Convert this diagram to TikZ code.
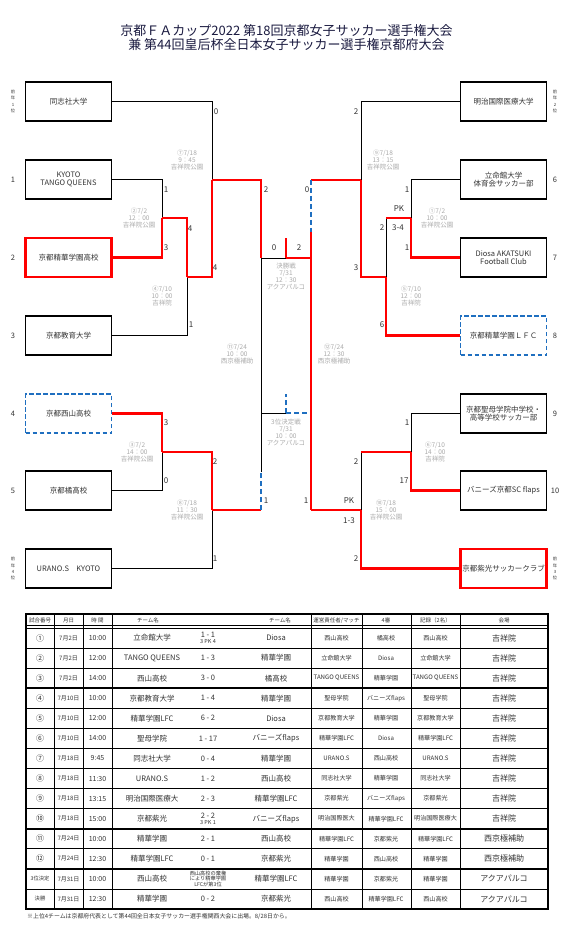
\documentclass[tikz,border=0pt]{standalone}
\usepackage{fontspec}
\setmainfont{Noto Sans CJK JP}
\definecolor{wred}{HTML}{FF0000}
\definecolor{tblue}{HTML}{1F6FC0}
\definecolor{infog}{HTML}{ABABAB}
\definecolor{txt}{HTML}{333333}
\definecolor{titlec}{HTML}{1A1A40}
\begin{document}
\begin{tikzpicture}[x=1pt,y=-1pt,
  teambox/.style={draw=black, line width=1.1pt, minimum width=86pt, minimum height=39pt, inner sep=0pt, align=center, font=\fontsize{7.5}{8.5}\selectfont, text=txt},
  winbox/.style={teambox, draw=wred, line width=2.3pt},
  thirdbox/.style={teambox, draw=tblue, line width=1.8pt, dash pattern=on 4.5pt off 2.5pt},
  lose/.style={draw=black, line width=0.9pt},
  win/.style={draw=wred, line width=2.4pt},
  third/.style={draw=tblue, line width=1.9pt, dash pattern=on 5pt off 3pt},
  score/.style={inner sep=0pt, font=\fontsize{8}{8}\selectfont, text=txt},
  info/.style={inner sep=0pt, align=center, font=\fontsize{6.5}{7}\selectfont, text=infog},
  sidenum/.style={inner sep=0pt, font=\fontsize{7.5}{8}\selectfont, text=txt},
  rank/.style={inner sep=0pt, align=center, font=\fontsize{4.3}{6.3}\selectfont, text=txt},
  cell/.style={inner sep=0pt, align=center, text=txt},
  hcell/.style={inner sep=0pt, align=center, text=txt, font=\fontsize{5.5}{6}\selectfont},
]
\useasboundingbox (0,0) rectangle (576,933);
\fill[white] (0,0) rectangle (576,933);

% title
\node[inner sep=0pt, text=titlec, font=\fontsize{13}{14}\selectfont] (title1) at (286.5,31) {京都ＦＡカップ2022 第18回京都女子サッカー選手権大会};
\node[inner sep=0pt, text=titlec, font=\fontsize{13}{14}\selectfont] (title2) at (286.5,44.5) {兼 第44回皇后杯全日本女子サッカー選手権京都府大会};

% team boxes
\node[teambox] (L1) at (68.5,101.5) {同志社大学};
\node[teambox] (L2) at (68.5,179.5) {KYOTO\\TANGO QUEENS};
\node[winbox] (L3) at (68.5,257.5) {京都精華学園高校};
\node[teambox] (L4) at (68.5,335.5) {京都教育大学};
\node[thirdbox] (L5) at (68.5,413.5) {京都西山高校};
\node[teambox] (L6) at (68.5,490.5) {京都橘高校};
\node[teambox] (L7) at (68.5,568.5) {URANO.S\quad KYOTO};
\node[teambox] (R1) at (503.5,101.5) {明治国際医療大学};
\node[teambox] (R2) at (503.5,179.5) {立命館大学\\体育会サッカー部};
\node[teambox] (R3) at (503.5,257.5) {Diosa AKATSUKI\\Football Club};
\node[thirdbox] (R4) at (503.5,335.5) {京都精華学園ＬＦＣ};
\node[teambox] (R5) at (503.5,413.5) {京都聖母学院中学校・\\高等学校サッカー部};
\node[teambox] (R6) at (503.5,490.5) {バニーズ京都SC flaps};
\node[winbox] (R7) at (503.5,568.5) {京都紫光サッカークラブ};

% seed numbers
\node[rank] (lr1) at (13,101.5) {前\\年\\1\\位};
\node[sidenum] (ln1) at (13,179.5) {1};
\node[sidenum] (ln2) at (13,257.5) {2};
\node[sidenum] (ln3) at (13,335.5) {3};
\node[sidenum] (ln4) at (13,413.5) {4};
\node[sidenum] (ln5) at (13,490.5) {5};
\node[rank] (lr4) at (13,568.5) {前\\年\\4\\位};
\node[rank] (rr2) at (555,101.5) {前\\年\\2\\位};
\node[sidenum] (rn6) at (555,179.5) {6};
\node[sidenum] (rn7) at (555,257.5) {7};
\node[sidenum] (rn8) at (555,335.5) {8};
\node[sidenum] (rn9) at (555,413.5) {9};
\node[sidenum] (rn10) at (555,490.5) {10};
\node[rank] (rr3) at (555,568.5) {前\\年\\3\\位};

% bracket coordinates
\coordinate (a2) at (162,218);
\coordinate (a4) at (187,277);
\coordinate (a7) at (212,180);
\coordinate (a3) at (162,452);
\coordinate (a8) at (212,510);
\coordinate (a8r) at (261,510);
\coordinate (a8m) at (261,472);
\coordinate (a11t) at (261,258);
\coordinate (a11b) at (261,413);
\coordinate (fin) at (286,258);
\coordinate (finR) at (311,258);
\coordinate (champ) at (286,238);
\coordinate (thr) at (286,413);
\coordinate (thrR) at (311,413);
\coordinate (thrup) at (286,394);
\coordinate (b1) at (411,218);
\coordinate (b1o) at (386,218);
\coordinate (b5) at (386,277);
\coordinate (b9) at (361,180);
\coordinate (b12t) at (311,180);
\coordinate (b12m) at (311,232);
\coordinate (b6) at (411,452);
\coordinate (b6o) at (361,452);
\coordinate (b10) at (361,510);
\coordinate (b12b) at (311,510);

% left bracket
\draw[lose] (L1.east) -| (a7);
\draw[lose] (L2.east) -| (a2);
\draw[lose] (L4.east) -| (a4);
\draw[lose] (L6.east) -| (a3);
\draw[lose] (L7.east) -| (a8);
\draw[lose] (a8m) -- (a11t);
\draw[lose] (a11b) -- (thr);
\draw[lose] (a11t) -- (fin);
\draw[win] (L3.east) -| (a2);
\draw[win] (a2) -| (a4);
\draw[win] (a4) -| (a7);
\draw[win] (a7) -| (a11t);
\draw[win] (L5.east) -| (a3);
\draw[win] (a3) -| (a8);
\draw[win] (a8) -- (a8r);
\draw[third] (a8r) -- (a8m);
% centre
\draw[third] (thr) -- (thrR);
\draw[third] (thr) -- (thrup);
\draw[win] (fin) -- (finR);
\draw[win] (fin) -- (champ);
% right bracket
\draw[lose] (R1.west) -| (b9);
\draw[lose] (R2.west) -| (b1);
\draw[lose] (b1o) -- (b5);
\draw[lose] (R5.west) -| (b6);
\draw[lose] (b6o) -- (b10);
\draw[win] (R3.west) -| (b1);
\draw[win] (b1) -- (b1o);
\draw[win] (R4.west) -| (b5);
\draw[win] (b5) -| (b9);
\draw[win] (b9) -- (b12t);
\draw[third] (b12t) -- (b12m);
\draw[win] (b12m) -- (b12b);
\draw[win] (R6.west) -| (b6);
\draw[win] (b6) -- (b6o);
\draw[win] (R7.west) -| (b10);
\draw[win] (b10) -- (b12b);

% scores
\node[score] (s1) at (216,112) {0};
\node[score] (s2) at (166,190) {1};
\node[score] (s3) at (166,248) {3};
\node[score] (s4) at (190,229) {4};
\node[score] (s5) at (191,325) {1};
\node[score] (s6) at (215,268) {4};
\node[score] (s7) at (266,190) {2};
\node[score] (s8) at (274,248) {0};
\node[score] (s9) at (166,423) {3};
\node[score] (s10) at (166,481) {0};
\node[score] (s11) at (215,462) {2};
\node[score] (s12) at (215,559) {1};
\node[score] (s13) at (266,501) {1};
\node[score] (s14) at (356,112) {2};
\node[score] (s15) at (407,190) {1};
\node[score] (s16) at (399,209) {PK};
\node[score] (s17) at (398,228) {3-4};
\node[score] (s18) at (407,248) {1};
\node[score] (s19) at (382,228) {2};
\node[score] (s20) at (356,268) {3};
\node[score] (s21) at (382,325) {6};
\node[score] (s22) at (307,190) {0};
\node[score] (s23) at (299,248) {2};
\node[score] (s24) at (407,423) {1};
\node[score] (s25) at (404,481) {17};
\node[score] (s26) at (356,462) {2};
\node[score] (s27) at (349,501) {PK};
\node[score] (s28) at (349,521) {1-3};
\node[score] (s29) at (356,559) {2};
\node[score] (s30) at (306,501) {1};

% match info
\node[info] (i7) at (187,160) {⑦7/18\\9：45\\吉祥院公園};
\node[info] (i2) at (139,218) {②7/2\\12：00\\吉祥院公園};
\node[info] (i4) at (162,296) {④7/10\\10：00\\吉祥院};
\node[info] (i11) at (237,354) {⑪7/24\\10：00\\西京極補助};
\node[info] (i3) at (137,452) {③7/2\\14：00\\吉祥院公園};
\node[info] (i8) at (187,510) {⑧7/18\\11：30\\吉祥院公園};
\node[info] (i9) at (383,160) {⑨7/18\\13：15\\吉祥院公園};
\node[info] (i1) at (437,218) {①7/2\\10：00\\吉祥院公園};
\node[info] (i5) at (411,296) {⑤7/10\\12：00\\吉祥院};
\node[info] (i12) at (334,354) {⑫7/24\\12：30\\西京極補助};
\node[info] (i6) at (435,452) {⑥7/10\\14：00\\吉祥院};
\node[info] (i10) at (386,510) {⑩7/18\\15：00\\吉祥院公園};
\node[info] (ifin) at (286,276.5) {決勝戦\\7/31\\12：30\\アクアパルコ};
\node[info] (i3rd) at (286,432.5) {3位決定戦\\7/31\\10：00\\アクアパルコ};

% table frame
\draw[line width=2.2pt] (26,614) -- (548,614);
\draw[line width=1.3pt] (26,625.6) -- (548,625.6);
\draw[line width=0.6pt] (26,628) -- (548,628);
\foreach \i in {1,2,4,5,7,8,9,11,13}{
  \draw[line width=0.8pt] (26,{628+20.07*\i}) -- (548,{628+20.07*\i});
}
\foreach \i in {3,6,10,12}{
  \draw[line width=1.8pt] (26,{628+20.07*\i}) -- (548,{628+20.07*\i});
}
\draw[line width=2.2pt] (26,909) -- (548,909);
\foreach \xx in {54,83,112,311,362,411,460}{
  \draw[line width=0.8pt] (\xx,614) -- (\xx,909);
}
\draw[line width=2.2pt] (26,613) -- (26,910);
\draw[line width=2.2pt] (548,613) -- (548,910);

% header
\node[hcell] (h1) at (40,620.5) {試合番号};
\node[hcell] (h2) at (68.5,620.5) {月日};
\node[hcell] (h3) at (97.5,620.5) {時\ 間};
\node[hcell] (h4) at (148,620.5) {チーム名};
\node[hcell] (h5) at (280,620.5) {チーム名};
\node[hcell] (h6) at (336.5,620.5) {運営責任者/マッチ};
\node[hcell] (h7) at (386,620.5) {4審};
\node[hcell] (h8) at (435.5,620.5) {記録（2名）};
\node[hcell] (h9) at (504,620.5) {会場};

% rows
\foreach \pA/\pB/\pC/\pD/\pE/\pF/\pG/\pH/\pI/\pJ/\pK in {
0/①/7月2日/10:00/立命館大学/{1 - 1\\{\fontsize{5.5}{5.5}\selectfont 3 PK 4}}/Diosa/西山高校/橘高校/西山高校/吉祥院,
1/②/7月2日/12:00/TANGO QUEENS/1 - 3/精華学園/立命館大学/Diosa/立命館大学/吉祥院,
2/③/7月2日/14:00/西山高校/3 - 0/橘高校/TANGO QUEENS/精華学園/TANGO QUEENS/吉祥院,
3/④/7月10日/10:00/京都教育大学/1 - 4/精華学園/聖母学院/バニーズflaps/聖母学院/吉祥院,
4/⑤/7月10日/12:00/精華学園LFC/6 - 2/Diosa/京都教育大学/精華学園/京都教育大学/吉祥院,
5/⑥/7月10日/14:00/聖母学院/1 - 17/バニーズflaps/精華学園LFC/Diosa/精華学園LFC/吉祥院,
6/⑦/7月18日/9:45/同志社大学/0 - 4/精華学園/URANO.S/西山高校/URANO.S/吉祥院,
7/⑧/7月18日/11:30/URANO.S/1 - 2/西山高校/同志社大学/精華学園/同志社大学/吉祥院,
8/⑨/7月18日/13:15/明治国際医療大/2 - 3/精華学園LFC/京都紫光/バニーズflaps/京都紫光/吉祥院,
9/⑩/7月18日/15:00/京都紫光/{2 - 2\\{\fontsize{5.5}{5.5}\selectfont 3 PK 1}}/バニーズflaps/明治国際医大/精華学園LFC/明治国際医療大/吉祥院,
10/⑪/7月24日/10:00/精華学園/2 - 1/西山高校/精華学園LFC/京都紫光/精華学園LFC/西京極補助,
11/⑫/7月24日/12:30/精華学園LFC/0 - 1/京都紫光/精華学園/西山高校/精華学園/西京極補助,
12/{\fontsize{5.3}{6}\selectfont 3位決定}/7月31日/10:00/西山高校/{}/精華学園LFC/精華学園/京都紫光/精華学園/アクアパルコ,
13/{\fontsize{5.3}{6}\selectfont 決勝}/7月31日/12:30/精華学園/0 - 2/京都紫光/西山高校/精華学園LFC/西山高校/アクアパルコ}{
  \pgfmathsetmacro\yc{628+20.07*(\pA+0.5)}
  \node[cell,font=\fontsize{8}{8}\selectfont] (tn\pA) at (40,\yc) {\pB};
  \node[cell,font=\fontsize{6}{6}\selectfont] (td\pA) at (68.5,\yc) {\pC};
  \node[cell,font=\fontsize{7}{7}\selectfont] (tt\pA) at (97.5,\yc) {\pD};
  \node[cell,font=\fontsize{7.5}{8}\selectfont] (ta\pA) at (152,\yc) {\pE};
  \node[cell,font=\fontsize{7.5}{6}\selectfont] (ts\pA) at (208,\yc) {\pF};
  \node[cell,font=\fontsize{7.5}{8}\selectfont] (tb\pA) at (276,\yc) {\pG};
  \node[cell,font=\fontsize{6.1}{7}\selectfont] (tx\pA) at (336.5,\yc) {\pH};
  \node[cell,font=\fontsize{6.1}{7}\selectfont] (ty\pA) at (386,\yc) {\pI};
  \node[cell,font=\fontsize{6.1}{7}\selectfont] (tz\pA) at (435.5,\yc) {\pJ};
  \node[cell,font=\fontsize{8}{8}\selectfont] (tv\pA) at (504,\yc) {\pK};
}
\node[cell,font=\fontsize{5.2}{5.8}\selectfont] (s3rdtxt) at (208,878.9) {西山高校の棄権\\により精華学園\\LFCが第3位};

\node[inner sep=0pt, anchor=west, text=txt, font=\fontsize{5.9}{6}\selectfont] (note) at (27,917) {※上位4チームは京都府代表として第44回全日本女子サッカー選手権関西大会に出場。8/28日から。};
\end{tikzpicture}
\end{document}
